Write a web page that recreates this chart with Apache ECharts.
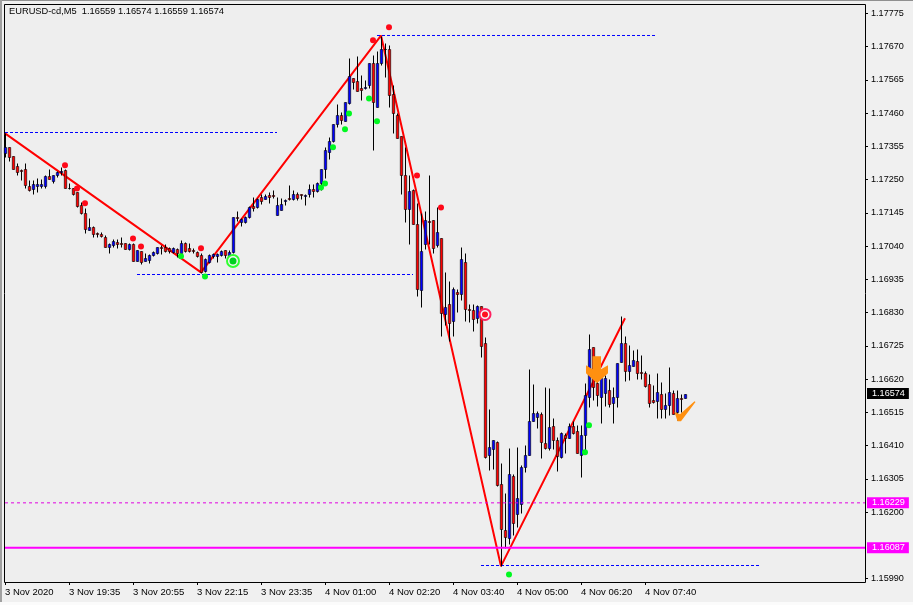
<!DOCTYPE html>
<html><head><meta charset="utf-8"><style>html,body{margin:0;padding:0;background:#f0f0f0;overflow:hidden}#c{width:913px;height:605px}.e{position:absolute}</style>
<script src="https://cdn.jsdelivr.net/npm/echarts@6/dist/echarts.min.js"></script></head><body><div id="c"></div>
<div class="e" style="left:0;top:0;width:913px;height:1px;background:#909090"></div>
<div class="e" style="left:0;top:0;width:2px;height:602px;background:#a0a0a0"></div>
<div class="e" style="left:0;top:602px;width:913px;height:3px;background:#fbfbfb"></div>
<script>
const titleText='EURUSD-cd,M5  1.16559 1.16574 1.16559 1.16574';
const timeLabels=['3 Nov 2020','3 Nov 19:35','3 Nov 20:55','3 Nov 22:15','3 Nov 23:35','4 Nov 01:00','4 Nov 02:20','4 Nov 03:40','4 Nov 05:00','4 Nov 06:20','4 Nov 07:40'];
const priceTicks=[1.15990,1.16200,1.16305,1.16410,1.16515,1.16620,1.16725,1.16830,1.16935,1.17040,1.17145,1.17250,1.17355,1.17460,1.17565,1.17670,1.17775];
const opens=[1.17333,1.17352,1.17323,1.17292,1.17279,1.17285,1.17229,1.17219,1.17229,1.17229,
1.17229,1.17260,1.17244,1.17263,1.17273,1.17279,1.17225,1.17222,1.17210,1.17169,
1.17146,1.17090,1.17099,1.17080,1.17077,1.17068,1.17036,1.17042,1.17052,1.17049,
1.17049,1.17030,1.17045,1.16992,1.17023,1.16992,1.16995,1.17011,1.17017,1.17036,
1.17036,1.17033,1.17020,1.17030,1.17017,1.17049,1.17033,1.17027,1.17020,1.17011,
1.16960,1.16989,1.17008,1.17008,1.17011,1.17027,1.17008,1.17020,1.17131,1.17115,
1.17115,1.17131,1.17165,1.17162,1.17194,1.17188,1.17200,1.17200,1.17137,1.17153,
1.17181,1.17191,1.17188,1.17206,1.17203,1.17197,1.17203,1.17219,1.17213,1.17238,
1.17282,1.17336,1.17371,1.17424,1.17453,1.17434,1.17491,1.17570,1.17560,1.17538,
1.17538,1.17548,1.17617,1.17478,1.17617,1.17664,1.17661,1.17519,1.17453,1.17387,
1.17263,1.17156,1.17216,1.17109,1.16900,1.17045,1.17118,1.17121,1.17042,1.17064,
1.16824,1.16856,1.16802,1.16894,1.16888,1.16989,1.16840,1.16837,1.16812,1.16850,
1.16733,1.16379,1.16398,1.16420,1.16288,1.16142,1.16117,1.16313,1.16193,1.16224,
1.16341,1.16379,1.16486,1.16499,1.16509,1.16417,1.16401,1.16471,1.16427,1.16373,
1.16442,1.16433,1.16471,1.16455,1.16379,1.16442,1.16562,1.16720,1.16606,1.16562,
1.16575,1.16584,1.16543,1.16562,1.16673,1.16733,1.16644,1.16660,1.16676,1.16641,
1.16638,1.16603,1.16553,1.16550,1.16572,1.16524,1.16537,1.16575,1.16515,1.16559,
1.16559];
const closes=[1.17352,1.17320,1.17285,1.17273,1.17276,1.17232,1.17216,1.17235,1.17235,1.17235,
1.17260,1.17251,1.17263,1.17273,1.17276,1.17222,1.17222,1.17203,1.17165,1.17143,
1.17093,1.17099,1.17077,1.17077,1.17071,1.17036,1.17045,1.17055,1.17045,1.17045,
1.17030,1.17045,1.16992,1.17027,1.16989,1.17001,1.17011,1.17020,1.17036,1.17033,
1.17023,1.17023,1.17033,1.17017,1.17049,1.17023,1.17023,1.17023,1.17008,1.16957,
1.16998,1.17011,1.17014,1.17014,1.17023,1.17011,1.17020,1.17131,1.17128,1.17124,
1.17131,1.17162,1.17159,1.17188,1.17181,1.17197,1.17194,1.17197,1.17169,1.17172,
1.17184,1.17188,1.17206,1.17191,1.17200,1.17200,1.17219,1.17213,1.17238,1.17282,
1.17342,1.17371,1.17424,1.17453,1.17437,1.17494,1.17576,1.17557,1.17529,1.17532,
1.17544,1.17617,1.17494,1.17617,1.17664,1.17661,1.17516,1.17459,1.17380,1.17263,
1.17156,1.17213,1.17109,1.16903,1.17023,1.17121,1.17115,1.17033,1.17083,1.16828,
1.16847,1.16796,1.16903,1.16888,1.16998,1.16840,1.16837,1.16809,1.16850,1.16723,
1.16373,1.16404,1.16427,1.16284,1.16145,1.16120,1.16319,1.16164,1.16243,1.16341,
1.16379,1.16486,1.16512,1.16512,1.16420,1.16401,1.16468,1.16427,1.16376,1.16449,
1.16433,1.16471,1.16449,1.16385,1.16442,1.16569,1.16714,1.16594,1.16569,1.16622,
1.16622,1.16540,1.16562,1.16670,1.16733,1.16644,1.16663,1.16679,1.16638,1.16638,
1.16597,1.16543,1.16547,1.16578,1.16524,1.16537,1.16578,1.16509,1.16559,1.16556,
1.16574];
const lows=[1.17320,1.17308,1.17285,1.17266,1.17248,1.17225,1.17213,1.17206,1.17210,1.17225,
1.17225,1.17251,1.17238,1.17257,1.17263,1.17222,1.17219,1.17200,1.17162,1.17140,
1.17080,1.17090,1.17068,1.17068,1.17068,1.17036,1.17017,1.17036,1.17033,1.17036,
1.17030,1.17027,1.16992,1.16992,1.16982,1.16992,1.16985,1.17008,1.17014,1.17014,
1.17020,1.17017,1.17017,1.17004,1.17017,1.17020,1.17020,1.17017,1.17004,1.16954,
1.16957,1.16985,1.17001,1.16989,1.17008,1.17001,1.17004,1.17017,1.17118,1.17102,
1.17112,1.17128,1.17150,1.17159,1.17172,1.17188,1.17175,1.17191,1.17137,1.17153,
1.17169,1.17184,1.17184,1.17184,1.17188,1.17169,1.17194,1.17194,1.17210,1.17216,
1.17254,1.17314,1.17368,1.17415,1.17424,1.17434,1.17488,1.17535,1.17529,1.17500,
1.17535,1.17538,1.17342,1.17478,1.17611,1.17573,1.17478,1.17396,1.17380,1.17206,
1.17115,1.17045,1.17109,1.16881,1.16847,1.17030,1.17045,1.17017,1.17036,1.16755,
1.16790,1.16739,1.16755,1.16831,1.16869,1.16802,1.16799,1.16771,1.16796,1.16689,
1.16370,1.16332,1.16335,1.16281,1.16029,1.16085,1.16098,1.16126,1.16152,1.16196,
1.16325,1.16379,1.16486,1.16464,1.16370,1.16398,1.16395,1.16398,1.16329,1.16370,
1.16385,1.16433,1.16446,1.16385,1.16310,1.16395,1.16531,1.16553,1.16534,1.16480,
1.16534,1.16531,1.16480,1.16531,1.16673,1.16613,1.16616,1.16660,1.16619,1.16619,
1.16594,1.16531,1.16543,1.16496,1.16496,1.16496,1.16505,1.16509,1.16490,1.16515,
1.16559];
const highs=[1.17396,1.17352,1.17323,1.17301,1.17285,1.17301,1.17248,1.17248,1.17254,1.17251,
1.17263,1.17282,1.17266,1.17276,1.17289,1.17285,1.17238,1.17225,1.17210,1.17178,
1.17159,1.17128,1.17102,1.17086,1.17083,1.17074,1.17049,1.17061,1.17061,1.17068,
1.17049,1.17049,1.17049,1.17027,1.17023,1.17017,1.17014,1.17023,1.17036,1.17042,
1.17045,1.17036,1.17036,1.17033,1.17058,1.17052,1.17049,1.17033,1.17023,1.17017,
1.17001,1.17014,1.17017,1.17017,1.17027,1.17027,1.17027,1.17131,1.17150,1.17128,
1.17134,1.17165,1.17194,1.17191,1.17206,1.17203,1.17210,1.17216,1.17194,1.17191,
1.17188,1.17232,1.17216,1.17210,1.17206,1.17206,1.17235,1.17235,1.17241,1.17282,
1.17352,1.17383,1.17424,1.17488,1.17462,1.17494,1.17633,1.17570,1.17639,1.17579,
1.17563,1.17617,1.17642,1.17655,1.17705,1.17680,1.17674,1.17548,1.17459,1.17387,
1.17352,1.17263,1.17219,1.17175,1.17146,1.17150,1.17263,1.17121,1.17162,1.17064,
1.16957,1.16929,1.16910,1.16903,1.17036,1.17017,1.16856,1.16856,1.16853,1.16850,
1.16752,1.16524,1.16427,1.16423,1.16354,1.16259,1.16401,1.16319,1.16404,1.16348,
1.16411,1.16651,1.16603,1.16518,1.16515,1.16594,1.16591,1.16496,1.16436,1.16452,
1.16449,1.16480,1.16486,1.16474,1.16474,1.16606,1.16761,1.16720,1.16632,1.16632,
1.16632,1.16619,1.16594,1.16670,1.16818,1.16755,1.16727,1.16711,1.16714,1.16695,
1.16644,1.16635,1.16600,1.16638,1.16610,1.16575,1.16657,1.16584,1.16584,1.16572,
1.16574];
const zigzag=[[0,1.17396],[49,1.16957],[94,1.17705],[124,1.16029],[155,1.16812]];
const redDots=[[15,1.17295],[18,1.17222],[20,1.17175],[32,1.17064],[34,1.17039],[49,1.17033],[92,1.17690],[96,1.17731],[103,1.17263],[109,1.17162]];
const greenDots=[[44,1.17008],[50,1.16944],[79,1.17225],[80,1.17238],[82,1.17352],[85,1.17409],[86,1.17459],[91,1.17506],[93,1.17434],[126,1.16003],[145,1.16389],[146,1.16474]];
const greenRing=[[57,1.16993]];
const redRing=[[120,1.16824]];
const arrowMark=[[148,1.16649]];
const checkMark=[[170,1.16518]];
const blueLevels=[[[0,1.173987],[68,1.173987]],[[33,1.169502],[102,1.169502]],[[93,1.177051],[163,1.177051]],[[119,1.160311],[189,1.160311]]];
const lastPrice=1.16574, levelA=1.16229, levelB=1.16087;
const slots=216, yMin=1.15979, yMax=1.17803;

const candles=opens.map((o,i)=>[i,o,closes[i],lows[i],highs[i]]);
const cats=Array.from({length:slots},(_,i)=>String(i));
const font='"Liberation Sans"', fs=9.5, fsY=9.1;
const renderCandle=(params,api)=>{
  const i=api.value(0),o=api.value(1),c=api.value(2),l=api.value(3),h=api.value(4);
  const x=Math.round(api.coord([i,o])[0])+0.5;
  const sy=v=>Math.round(api.coord([i,v])[1])+0.5;
  const top=sy(Math.max(o,c)),bot=sy(Math.min(o,c));
  return {type:'group',children:[
    {type:'line',shape:{x1:x,y1:sy(h),x2:x,y2:sy(l)},style:{stroke:'#000',lineWidth:1}},
    {type:'rect',shape:{x:x-1.2,y:top,width:2.4,height:bot-top},style:{fill:c>=o?'#0000ff':'#ff0000',stroke:'#000',lineWidth:0.6}}
  ]};
};
const level=(v,bg,ls)=>({type:'line',data:[[0,v],[slots-1,v]],symbol:'none',lineStyle:ls,z:6,silent:true,clip:false,
 endLabel:{show:true,distance:2,formatter:()=>v.toFixed(5),backgroundColor:bg,color:'#fff',fontFamily:font,fontSize:fsY,padding:[1,4,1,5],lineHeight:9}});
const dotSeries=(data,color)=>({type:'scatter',data,symbol:'circle',symbolSize:6,itemStyle:{color,opacity:1},z:5,silent:true});
const ringSeries=(data,color,size)=>({type:'scatter',data,symbol:'circle',symbolSize:size,itemStyle:{color:'#f4f4f4',borderColor:color,borderWidth:2,opacity:1},z:7,silent:true});
const ch=echarts.init(document.getElementById('c'),null,{renderer:'canvas'});
ch.setOption({animation:false,backgroundColor:'#f0f0f0',
title:{text:titleText,left:9,top:7,padding:0,z:9,textStyle:{fontFamily:font,fontSize:9.3,fontWeight:'normal',color:'#000'}},
graphic:[{type:'rect',z:-1,silent:true,shape:{x:4.5,y:4.5,width:861,height:578},style:{fill:'#eeeeee',stroke:'#000',lineWidth:1}}],
grid:{show:false,left:5,top:4.5,width:860,height:577.5,containLabel:false},
xAxis:{type:'category',data:cats,boundaryGap:false,
axisLine:{show:false},
axisTick:{show:true,length:3,lineStyle:{color:'#000'},interval:i=>i%16===0&&i/16<timeLabels.length},
axisLabel:{show:true,align:'left',margin:5,color:'#000',fontFamily:font,fontSize:fs,interval:i=>i%16===0&&i/16<timeLabels.length,formatter:(v,i)=>timeLabels[i/16]||''},
splitLine:{show:false}},
yAxis:{type:'value',position:'right',min:yMin,max:yMax,scale:true,
axisLine:{show:false},
axisTick:{show:true,length:3,lineStyle:{color:'#000'},customValues:priceTicks},
axisLabel:{show:true,margin:6,color:'#000',fontFamily:font,fontSize:fsY,customValues:priceTicks,formatter:v=>v.toFixed(5)},
splitLine:{show:false}},
series:[
{type:'line',data:zigzag,symbol:'none',lineStyle:{color:'#ff0000',width:2},z:1,silent:true},
...blueLevels.map(d=>({type:'line',data:d,symbol:'none',lineStyle:{color:'#0000ff',width:1,type:[3,2]},z:1,silent:true})),
{type:'custom',data:candles,renderItem:renderCandle,encode:{x:0,y:[1,2,3,4]},clip:false,z:2,silent:true},
dotSeries(redDots,'#ff0818'),
dotSeries(greenDots,'#00f820'),
level(levelA,'#ff00ff',{color:'#e000e0',width:1,type:[3,3]}),
level(levelB,'#ff00ff',{color:'#ff00ff',width:2,type:'solid'}),
level(lastPrice,'#000000',{color:'#000',width:1,opacity:0}),
ringSeries(greenRing,'#30ff30',12),
{type:'scatter',data:greenRing,symbol:'circle',symbolSize:7,itemStyle:{color:'#00d020',opacity:1},z:8,silent:true},
ringSeries(redRing,'#ff2060',11),
{type:'scatter',data:redRing,symbol:'circle',symbolSize:6,itemStyle:{color:'#ff1020',opacity:1},z:8,silent:true},
{type:'scatter',data:arrowMark,symbol:'path://M6.5 0L15 0L15 13L22 9L22 17L11 27L0 17L0 9L6.5 13Z',symbolSize:[22,27],itemStyle:{color:'#ff9010',opacity:1},z:8,silent:true},
{type:'scatter',data:checkMark,symbol:'path://M0 10.7L5.5 13L20 0L21 0.7L6.5 20L3 20Z',symbolSize:[21,20],itemStyle:{color:'#ff9010',opacity:1},z:8,silent:true}
]});
</script></body></html>
